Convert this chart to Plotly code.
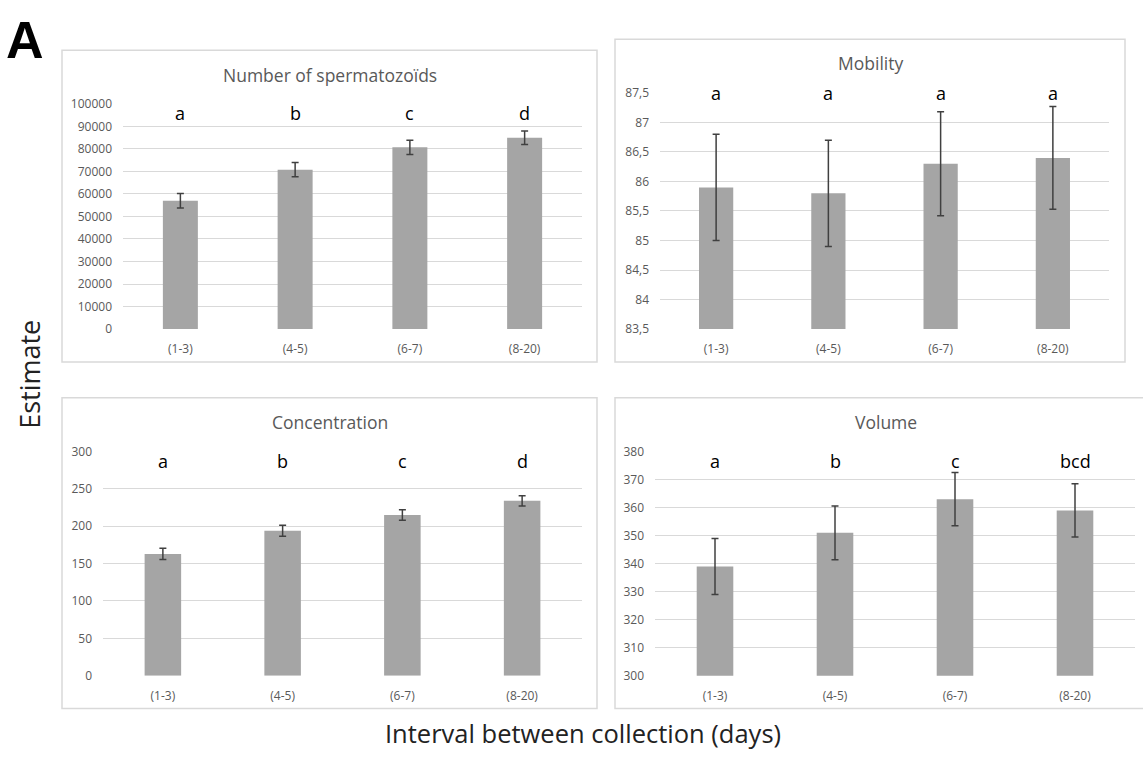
import plotly.graph_objects as go

categories = ["(1-3)", "(4-5)", "(6-7)", "(8-20)"]

sperm_vals = [57000, 70800, 80700, 85000]
sperm_err = [3200, 3200, 3200, 3000]
sperm_letters = ["a", "b", "c", "d"]

mob_vals = [85.9, 85.8, 86.3, 86.4]
mob_err = [0.9, 0.9, 0.88, 0.87]
mob_letters = ["a", "a", "a", "a"]

conc_vals = [163, 194, 215, 234]
conc_err = [7.5, 7.5, 7, 7]
conc_letters = ["a", "b", "c", "d"]

vol_vals = [339, 351, 363, 359]
vol_err = [10, 9.6, 9.5, 9.5]
vol_letters = ["a", "b", "c", "bcd"]

sperm_ticks = [0, 10000, 20000, 30000, 40000, 50000, 60000, 70000, 80000, 90000, 100000]
mob_ticks = [83.5, 84, 84.5, 85, 85.5, 86, 86.5, 87, 87.5]
mob_ticktext = ["83,5", "84", "84,5", "85", "85,5", "86", "86,5", "87", "87,5"]
conc_ticks = [0, 50, 100, 150, 200, 250, 300]
vol_ticks = [300, 310, 320, 330, 340, 350, 360, 370, 380]

titles = ["Number of spermatozoïds", "Mobility", "Concentration", "Volume"]
y_title = "Estimate"
x_title = "Interval between collection (days)"
panel_label = "A"

W, H = 1143, 760
FONT = "Open Sans"
BAR = "#a5a5a5"
GRID = "#d9d9d9"
TXT = "#595959"

def fx(px):
    return px / W

def fy(py):
    page_y = (py - 7.7) / 0.9815
    return 1 - page_y / H

panels = [
    dict(vals=sperm_vals, err=sperm_err, letters=sperm_letters, ticks=sperm_ticks,
         ticktext=[str(t) for t in sperm_ticks], rng=[0, 100000],
         dom_x=(123, 582), dom_y=(103, 329), box=(62, 49, 597, 362),
         title_xy=(330, 74), letter_y=112),
    dict(vals=mob_vals, err=mob_err, letters=mob_letters, ticks=mob_ticks,
         ticktext=mob_ticktext, rng=[83.5, 87.5],
         dom_x=(660, 1109), dom_y=(92, 329), box=(615, 38, 1125, 362),
         title_xy=(870, 62), letter_y=92),
    dict(vals=conc_vals, err=conc_err, letters=conc_letters, ticks=conc_ticks,
         ticktext=[str(t) for t in conc_ticks], rng=[0, 300],
         dom_x=(103, 582), dom_y=(452, 677), box=(62, 398, 597, 710),
         title_xy=(330, 422), letter_y=461),
    dict(vals=vol_vals, err=vol_err, letters=vol_letters, ticks=vol_ticks,
         ticktext=[str(t) for t in vol_ticks], rng=[300, 380],
         dom_x=(655, 1135), dom_y=(452, 677), box=(615, 398, 1160, 710),
         title_xy=(886, 422), letter_y=461),
]

fig = go.Figure()
shapes = []
annotations = []

for i, p in enumerate(panels):
    n = i + 1
    xa = "x" if n == 1 else f"x{n}"
    ya = "y" if n == 1 else f"y{n}"
    fig.add_trace(go.Bar(
        x=categories, y=p["vals"], xaxis=xa, yaxis=ya,
        marker=dict(color=BAR, line=dict(width=0)), width=0.305,
        error_y=dict(type="data", array=p["err"], visible=True,
                     color="#404040", thickness=1.5, width=3.5),
        showlegend=False, hoverinfo="skip",
    ))
    xkey = "xaxis" if n == 1 else f"xaxis{n}"
    ykey = "yaxis" if n == 1 else f"yaxis{n}"
    fig.update_layout(**{
        xkey: dict(domain=[fx(p["dom_x"][0]), fx(p["dom_x"][1])], anchor=ya,
                   type="category", range=[-0.5, 3.5], showgrid=False,
                   showline=False, zeroline=False, ticks="",
                   ticklabelstandoff=11,
                   tickfont=dict(family=FONT, size=12, color=TXT)),
        ykey: dict(domain=[fy(p["dom_y"][1]), fy(p["dom_y"][0])], anchor=xa,
                   range=p["rng"], tickvals=p["ticks"], ticktext=p["ticktext"],
                   showgrid=True, gridcolor=GRID, gridwidth=1,
                   zeroline=False, showline=False, ticks="",
                   ticklabelstandoff=10,
                   tickfont=dict(family=FONT, size=12, color=TXT)),
    })
    x0, y0, x1, y1 = p["box"]
    shapes.append(dict(type="rect", xref="paper", yref="paper",
                       x0=fx(x0), x1=fx(x1), y0=fy(y1), y1=fy(y0),
                       line=dict(color=GRID, width=1.5), fillcolor="rgba(0,0,0,0)",
                       layer="below"))
    annotations.append(dict(text=titles[i], xref="paper", yref="paper",
                            x=fx(p["title_xy"][0]), y=fy(p["title_xy"][1]),
                            xanchor="center", yanchor="middle", showarrow=False,
                            font=dict(family=FONT, size=17.5, color=TXT)))
    for c, lt in zip(categories, p["letters"]):
        annotations.append(dict(text=lt, xref=xa, yref="paper", x=c,
                                y=fy(p["letter_y"]), xanchor="center",
                                yanchor="middle", showarrow=False,
                                font=dict(family=FONT, size=18, color="#000000")))

annotations.append(dict(text=f"<b>{panel_label}</b>", xref="paper", yref="paper",
                        x=fx(4), y=1, xanchor="left", yanchor="top",
                        showarrow=False,
                        font=dict(family="Liberation Sans", size=52, color="#000000")))
annotations.append(dict(text=y_title, xref="paper", yref="paper",
                        x=fx(30), y=fy(375), xanchor="center", yanchor="middle",
                        textangle=-90, showarrow=False,
                        font=dict(family=FONT, size=27, color="#222222")))
annotations.append(dict(text=x_title, xref="paper", yref="paper",
                        x=fx(583), y=0, xanchor="center", yanchor="bottom",
                        showarrow=False,
                        font=dict(family=FONT, size=25.5, color="#222222")))

fig.update_layout(width=W, height=H, margin=dict(l=0, r=0, t=0, b=0),
                  paper_bgcolor="white", plot_bgcolor="rgba(0,0,0,0)",
                  shapes=shapes, annotations=annotations)

fig.write_html("out.html", config={"displayModeBar": False},
               post_script="document.body.style.margin='0';"
                           "document.documentElement.style.overflow='hidden';")
